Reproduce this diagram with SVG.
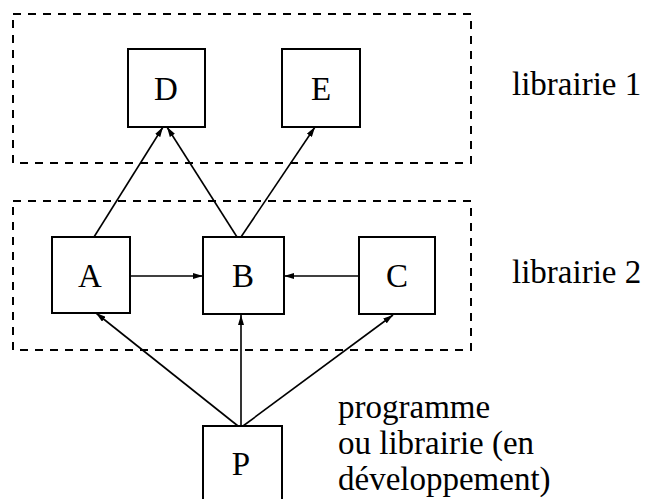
<svg xmlns="http://www.w3.org/2000/svg" width="648" height="499" viewBox="0 0 648 499">
  <style>
    .group { fill: none; stroke: #000; stroke-width: 2; stroke-dasharray: 8 7; }
    .node rect { fill: #fff; stroke: #000; stroke-width: 2; }
    .node text, .label { font-family: "Liberation Serif", "Times New Roman", serif; font-size: 33px; fill: #000; }
    .node text { text-anchor: middle; }
    .edge { stroke: #000; stroke-width: 1.6; fill: none; marker-end: url(#arrow); }
  </style>
  <defs>
    <marker id="arrow" viewBox="0 0 10 6" refX="10" refY="3" markerWidth="10" markerHeight="6" markerUnits="userSpaceOnUse" orient="auto">
      <path d="M0,0 L10,3 L0,6 Z" fill="#000"/>
    </marker>
  </defs>
  <rect width="648" height="499" fill="#fff"/>

  <!-- library boundaries -->
  <g id="lib1">
    <rect class="group" x="13" y="14" width="458" height="149"/>
    <text class="label" x="512" y="95">librairie 1</text>
  </g>
  <g id="lib2">
    <rect class="group" x="13" y="201" width="458" height="149"/>
    <text class="label" x="512" y="283">librairie 2</text>
  </g>

  <!-- dependencies -->
  <g id="edges">
    <line class="edge" x1="94" y1="237" x2="163" y2="127"/>
    <line class="edge" x1="237" y1="237" x2="167" y2="127"/>
    <line class="edge" x1="241" y1="237" x2="315" y2="127"/>
    <line class="edge" x1="130" y1="276" x2="203" y2="276"/>
    <line class="edge" x1="359" y1="276" x2="284" y2="276"/>
    <line class="edge" x1="238" y1="426" x2="96" y2="313"/>
    <line class="edge" x1="241" y1="426" x2="241" y2="315"/>
    <line class="edge" x1="243" y1="426" x2="393" y2="315"/>
  </g>

  <g id="D" class="node">
    <rect x="128" y="49" width="77" height="78"/>
    <text x="166" y="100">D</text>
  </g>
  <g id="E" class="node">
    <rect x="282" y="49" width="78" height="78"/>
    <text x="321" y="100">E</text>
  </g>
  <g id="A" class="node">
    <rect x="52" y="237" width="78" height="76"/>
    <text x="90" y="287">A</text>
  </g>
  <g id="B" class="node">
    <rect x="203" y="237" width="81" height="77"/>
    <text x="243" y="287">B</text>
  </g>
  <g id="C" class="node">
    <rect x="359" y="237" width="76" height="77"/>
    <text x="397" y="287">C</text>
  </g>
  <g id="P" class="node">
    <rect x="203" y="426" width="79" height="90"/>
    <text x="241" y="475">P</text>
  </g>

  <g id="P-caption">
    <text class="label" x="338" y="418">programme</text>
    <text class="label" x="338" y="454">ou librairie (en</text>
    <text class="label" x="338" y="490">développement)</text>
  </g>
</svg>
